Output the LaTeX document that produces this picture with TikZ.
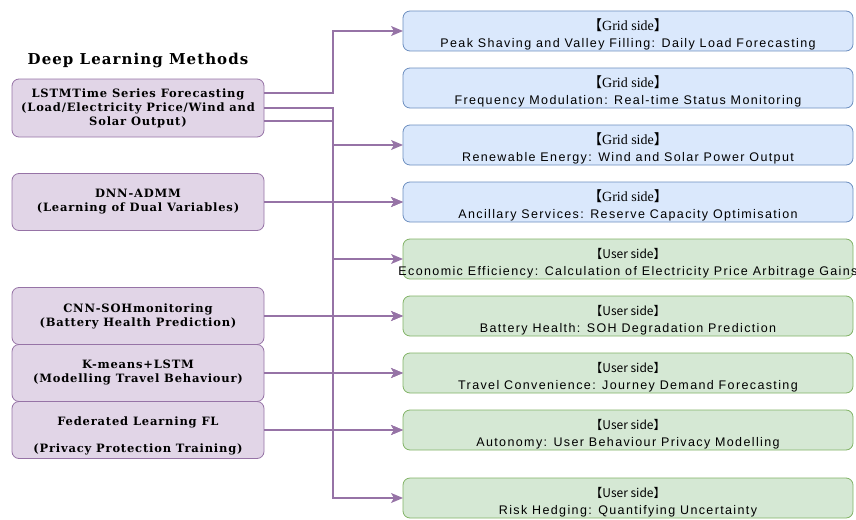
\documentclass[tikz,border=0pt]{standalone}
\usepackage{fontspec}
\setmainfont{Liberation Serif}
\setsansfont{Liberation Sans}[LetterSpace=11]
\newfontfamily\methodfont{DejaVu Serif}[LetterSpace=7]
\newfontfamily\cjkfont{Noto Sans CJK SC}
\usetikzlibrary{arrows.meta,positioning}

\definecolor{methodfill}{HTML}{E1D5E7}
\definecolor{methoddraw}{HTML}{9673A6}
\definecolor{gridfill}{HTML}{DAE8FC}
\definecolor{griddraw}{HTML}{6C8EBF}
\definecolor{userfill}{HTML}{D5E8D4}
\definecolor{userdraw}{HTML}{82B366}

\newcommand{\gridtag}{\rule{0pt}{19pt}{\fontsize{14}{14}\selectfont{\cjkfont 【}\rmfamily Grid side{\cjkfont 】}}}
\newcommand{\usertag}{\rule{0pt}{19pt}{\cjkfont\fontsize{12}{12}\selectfont 【User side】}}

\begin{document}
\begin{tikzpicture}[
    x=1pt, y=-1pt,
    node distance=17pt,
    method/.style={rectangle, draw=methoddraw, fill=methodfill, rounded corners=7pt, line width=0.8pt,
      minimum width=252pt, minimum height=57pt, inner sep=0pt, outer sep=0pt, align=center,
      font=\methodfont\bfseries\fontsize{11.5}{14}\selectfont},
    target/.style={rectangle, rounded corners=7pt, line width=0.8pt, minimum width=450pt,
      minimum height=40pt, inner sep=0pt, outer sep=0pt, align=center,
      font=\sffamily\fontsize{12.5}{17}\selectfont},
    grid/.style={target, draw=griddraw, fill=gridfill},
    user/.style={target, draw=userdraw, fill=userfill},
    arr/.style={-{Stealth[length=12pt, width=10pt, inset=3pt]}, draw=methoddraw, line width=1.3pt}
  ]
    \useasboundingbox (0,0) rectangle (856,519);
    % outcome column
    \node[grid] (b1) at (628,31) {\gridtag\\Peak Shaving and Valley Filling: Daily Load Forecasting};
    \node[grid, below=of b1] (b2) {\gridtag\\Frequency Modulation: Real-time Status Monitoring};
    \node[grid, below=of b2] (b3) {\gridtag\\Renewable Energy: Wind and Solar Power Output};
    \node[grid, below=of b3] (b4) {\gridtag\\Ancillary Services: Reserve Capacity Optimisation};
    \node[user, below=of b4] (g1) {\usertag\\\makebox[440pt]{Economic Efficiency: Calculation of Electricity Price Arbitrage Gains}};
    \node[user, below=of g1] (g2) {\usertag\\Battery Health: SOH Degradation Prediction};
    \node[user, below=of g2] (g3) {\usertag\\Travel Convenience: Journey Demand Forecasting};
    \node[user, below=of g3] (g4) {\usertag\\Autonomy: User Behaviour Privacy Modelling};
    \node[user, below=28pt of g4] (g5) {\usertag\\Risk Hedging: Quantifying Uncertainty};
    % methods column
    \node[font=\methodfont\bfseries\fontsize{15}{17}\selectfont] (title) at (138,60) {Deep Learning Methods};
    \node[method, minimum height=58pt] (lstm) at (138,108) {LSTMTime Series Forecasting\\(Load/Electricity Price/Wind and\\Solar Output)};
    \node[method] (dnn) at (138,202) {DNN-ADMM\\(Learning of Dual Variables)};
    \node[method] (cnn) at (138,316) {CNN-SOHmonitoring\\(Battery Health Prediction)};
    \node[method, below=0pt of cnn] (km) {K-means+LSTM\\(Modelling Travel Behaviour)};
    \node[method, below=0pt of km] (fl) {\rule{0pt}{20pt}Federated Learning FL\\[13pt](Privacy Protection Training)};
    \coordinate (trunk) at (333,0);
    % connectors
    \draw[arr] ([yshift=15pt]lstm.east) -| (trunk |- b1) -- (b1.west);
    \draw[arr] (lstm.east) -| (trunk |- g5) -- (g5.west);
    \foreach \t in {b3,b4,g1,g2,g3,g4}
      \draw[arr] ([yshift=-13pt]lstm.east) -| (trunk |- \t) -- (\t.west);
    \draw[arr] (dnn.east) -- (b4.west);
    \draw[arr] (cnn.east) -- (g2.west);
    \draw[arr] (km.east) -- (g3.west);
    \draw[arr] (fl.east) -- (g4.west);
  \end{tikzpicture}
\end{document}
